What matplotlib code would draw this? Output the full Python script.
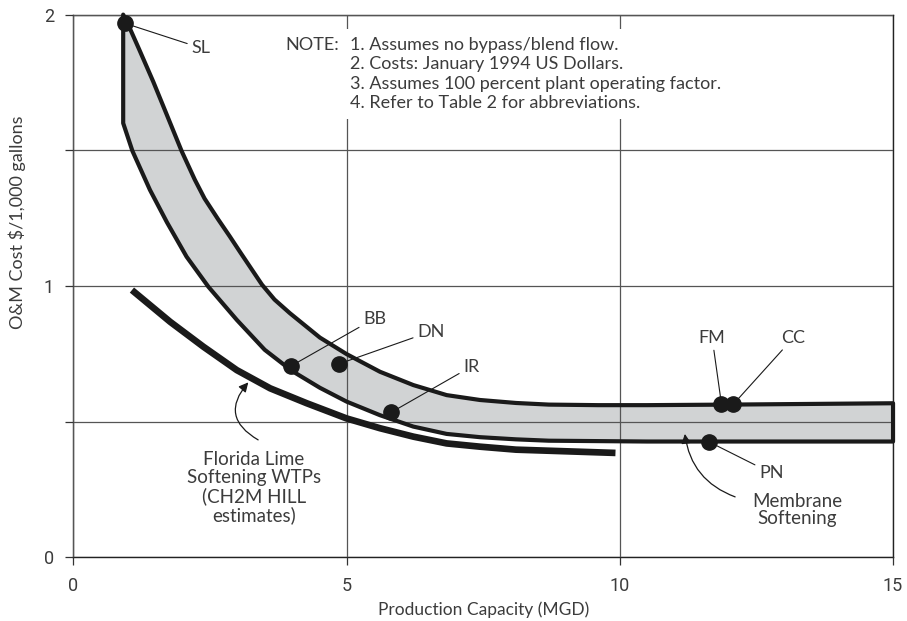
import matplotlib
matplotlib.use("Agg")
import matplotlib.pyplot as plt
from matplotlib import font_manager

# membrane softening band (upper and lower edge)
upper_x = [0.91, 1.03, 1.20, 1.46, 1.70, 1.98, 2.22, 2.40, 2.65, 2.86, 3.05, 3.45, 3.68, 3.96,
           4.51, 5.0, 5.61, 6.22, 6.83, 7.44, 8.1, 8.7, 9.6, 10.5, 12.0, 15.0]
upper_y = [2.0, 1.950, 1.873, 1.753, 1.635, 1.497, 1.392, 1.322, 1.245, 1.183, 1.125, 1.005, 0.95, 0.9,
           0.81, 0.749, 0.684, 0.635, 0.598, 0.580, 0.569, 0.563, 0.561, 0.561, 0.563, 0.568]
lower_x = [0.91, 1.08, 1.40, 1.71, 2.07, 2.47, 2.99, 3.5, 4.0, 4.51, 5.0, 5.61, 6.22,
           6.83, 7.44, 8.1, 8.7, 10.5, 15.0]
lower_y = [1.60, 1.497, 1.354, 1.235, 1.108, 0.997, 0.875, 0.765, 0.687, 0.625, 0.574, 0.524, 0.482,
           0.455, 0.443, 0.435, 0.430, 0.427, 0.427]

# Florida lime softening WTPs (CH2M HILL estimates)
lime_x = [1.07, 1.77, 2.38, 2.99, 3.6, 4.27, 5.0, 5.61, 6.22, 6.83, 7.44, 8.1, 9.92]
lime_y = [0.985, 0.868, 0.776, 0.69, 0.623, 0.568, 0.512, 0.476, 0.445, 0.420, 0.408, 0.397, 0.385]

# membrane plants
sites = ["SL", "BB", "DN", "IR", "FM", "CC", "PN"]
site_x = [0.94, 3.98, 4.86, 5.82, 11.86, 12.08, 11.64]
site_y = [1.968, 0.705, 0.713, 0.535, 0.565, 0.565, 0.425]

notes = ["1. Assumes no bypass/blend flow.",
         "2. Costs: January 1994 US Dollars.",
         "3. Assumes 100 percent plant operating factor.",
         "4. Refer to Table 2 for abbreviations."]

installed = {f.name for f in font_manager.fontManager.ttflist}
tick_font = "Liberation Sans Narrow" if "Liberation Sans Narrow" in installed else "Roboto"
plt.rcParams["font.family"] = ["Lato", "DejaVu Sans"]

ink = "#1a1a1a"
txt = "#3c3c3c"

fig = plt.figure(figsize=(9.07, 6.21), dpi=100)
ax = fig.add_axes([0.081, 0.1024, 0.9036, 0.8741])

# band: fill under the grid, outline over it
band_x = upper_x + lower_x[::-1]
band_y = upper_y + lower_y[::-1]
ax.fill(band_x, band_y, facecolor="#d1d3d4", edgecolor="none", zorder=1, clip_on=False)
ax.fill(band_x, band_y, facecolor="none", edgecolor=ink, lw=3, joinstyle="round",
        zorder=3, clip_on=False)

ax.plot(lime_x, lime_y, color=ink, lw=4.8, solid_capstyle="butt",
        solid_joinstyle="round", zorder=3)
ax.plot(site_x, site_y, "o", ms=11, color=ink, zorder=5, clip_on=False)

# site labels with leader lines
label_pos = {"SL": (2.33, 1.877), "BB": (5.51, 0.880), "DN": (6.54, 0.832),
             "IR": (7.28, 0.703), "FM": (11.69, 0.808), "CC": (13.17, 0.808),
             "PN": (12.77, 0.311)}
for name, x, y in zip(sites, site_x, site_y):
    ax.annotate(name, xy=(x, y), xytext=label_pos[name], ha="center", va="center",
                fontsize=13, color=txt, zorder=6,
                arrowprops=dict(arrowstyle="-", color=ink, lw=0.8, shrinkA=1, shrinkB=4))

# notes block
ax.text(3.87, 1.917, "NOTE:", ha="left", va="top", fontsize=13, color=txt,
        linespacing=1.25, zorder=6)
ax.text(5.06, 1.917, "\n".join(notes), ha="left", va="top", fontsize=13, color=txt,
        linespacing=1.25, zorder=6,
        bbox=dict(facecolor="white", edgecolor="none", pad=6))

# curve callouts
ax.text(3.30, 0.256, "Florida Lime\nSoftening WTPs\n(CH2M HILL\nestimates)",
        ha="center", va="center", fontsize=13.5, color=txt, linespacing=1.08)
ax.annotate("", xy=(3.2, 0.645), xytext=(3.38, 0.433),
            arrowprops=dict(arrowstyle="-|>", connectionstyle="arc3,rad=-0.6",
                            color=ink, lw=0.9, mutation_scale=14, shrinkA=0, shrinkB=0))
ax.text(13.24, 0.175, "Membrane\nSoftening", ha="center", va="center", fontsize=13.5,
        color=txt, linespacing=1.05)
ax.annotate("", xy=(11.19, 0.455), xytext=(12.11, 0.223),
            arrowprops=dict(arrowstyle="-|>", connectionstyle="arc3,rad=-0.3",
                            color=ink, lw=0.9, mutation_scale=14, shrinkA=0, shrinkB=0))

ax.set_xlim(0, 15)
ax.set_ylim(0, 2)
ax.set_xticks([0, 5, 10, 15])
ax.set_yticks([0, 1, 2])
ax.set_yticks([0.5, 1.5], minor=True)
ax.grid(True, which="both", color="#555555", lw=0.9)
ax.set_axisbelow(False)
ax.tick_params(which="both", direction="out", length=6, width=0.9, color="#333333",
               labelsize=13, labelcolor=txt, pad=8)
for lab in ax.get_xticklabels() + ax.get_yticklabels():
    lab.set_family(tick_font)
for s in ax.spines.values():
    s.set_color("#222222")
    s.set_linewidth(1.0)

ax.set_xlabel("Production Capacity (MGD)", fontsize=12.5, color=txt)
ax.xaxis.set_label_coords(0.5, -0.081)
ax.set_ylabel("O&M Cost $/1,000 gallons", fontsize=13, color=txt)
ax.yaxis.set_label_coords(-0.058, 0.618)

fig.savefig("out.png", dpi=100)
